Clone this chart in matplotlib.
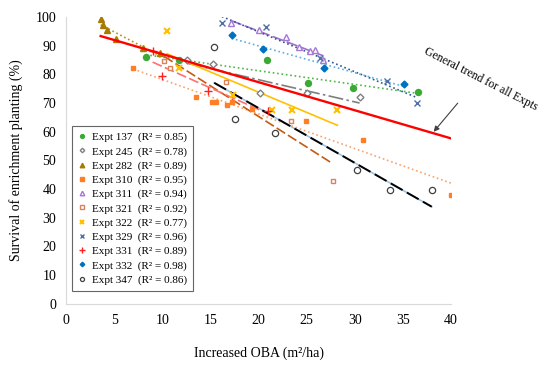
import numpy as np
import matplotlib
matplotlib.use("Agg")
import matplotlib.pyplot as plt

plt.rcParams['font.family'] = ['Liberation Serif', 'DejaVu Serif']

# values
x137 = [8.3, 11.7, 20.9, 25.1, 29.8, 36.6]
y137 = [86.0, 84.9, 84.9, 77.1, 75.1, 73.8]

x245 = [12.6, 15.3, 20.2, 25.0, 30.5]
y245 = [85.1, 83.8, 73.4, 73.4, 72.3]

x282 = [3.6, 3.8, 4.3, 5.15, 8.0, 9.75]
y282 = [99.3, 97.3, 95.4, 92.4, 89.3, 87.3]

x310 = [7.0, 13.5, 15.2, 15.6, 16.7, 17.2, 19.3, 24.9, 30.9, 40.0]
y310 = [82.3, 72.0, 70.4, 70.4, 69.2, 70.4, 67.9, 63.8, 57.3, 37.9]

x311 = [17.1, 20.0, 22.9, 24.2, 25.4, 25.9, 26.7]
y311 = [98.0, 95.4, 93.0, 89.5, 88.2, 88.4, 84.9]

x321 = [10.2, 10.8, 16.6, 23.4, 27.7]
y321 = [84.7, 82.1, 77.3, 63.8, 43.0]

x322 = [10.5, 11.7, 17.4, 21.4, 23.5, 28.2]
y322 = [95.1, 82.1, 72.9, 67.7, 67.7, 67.7]

x329 = [16.2, 20.8, 26.4, 33.3, 36.5]
y329 = [97.9, 96.6, 85.7, 77.7, 70.2]

x331 = [9.0, 10.0, 14.8, 21.0]
y331 = [88.0, 79.5, 74.3, 67.2]

x332 = [17.2, 20.5, 26.8, 35.1]
y332 = [93.6, 89.0, 82.3, 76.6]

x347 = [15.4, 17.6, 21.7, 30.2, 33.7, 38.0]
y347 = [89.6, 64.6, 59.7, 46.6, 39.6, 39.6]

expts = ['137', '245', '282', '310', '311', '321', '322', '329', '331', '332', '347']
r2 = ['0.85', '0.78', '0.89', '0.95', '0.94', '0.92', '0.77', '0.96', '0.89', '0.98', '0.86']

general_slope = -0.98
general_intercept = 96.9

series = [
    (x137, y137, dict(marker='o', color='#3AAA35', mfc='#3AAA35', ms=4.3), dict(color='#4CB848', ls=':', lw=1.2)),
    (x245, y245, dict(marker='D', color='#808080', mfc='white', ms=3.5), dict(color='#7F7F7F', ls=(0, (9, 2, 1.5, 2)), lw=1.2)),
    (x282, y282, dict(marker='^', color='#A67C00', mfc='#A67C00', ms=5), dict(color='#BF9000', ls=':', lw=1.2)),
    (x310, y310, dict(marker='s', color='#FF7F27', mfc='#FF7F27', ms=3.5), dict(color='#F8A46C', ls=':', lw=1.2)),
    (x311, y311, dict(marker='^', color='#A678D6', mfc='white', ms=5), dict(color='#9E6FCB', ls=(0, (7, 2)), lw=1.2)),
    (x321, y321, dict(marker='s', color='#D9825B', mfc='white', ms=3.5), dict(color='#C55A11', ls=(0, (6, 2)), lw=1.2)),
    (x322, y322, dict(marker='x', color='#FFC000', ms=4.5, mew=1.5), dict(color='#FFC000', ls='-', lw=1.2)),
    (x329, y329, dict(marker='x', color='#4F6FA8', ms=5, mew=1.0), dict(color='#2F5597', ls=':', lw=1.2)),
    (x331, y331, dict(marker='+', color='#FF2020', ms=6, mew=1.0), dict(color='#FF7070', ls=(0, (6, 2)), lw=1.2)),
    (x332, y332, dict(marker='D', color='#0070C0', mfc='#0070C0', ms=3.5), dict(color='#5BAFE5', ls=':', lw=1.2)),
    (x347, y347, dict(marker='o', color='#404040', mfc='white', ms=4.5, mew=0.9), dict(color='black', ls=(0, (7, 2.5)), lw=1.4)),
]

fig = plt.figure(figsize=(5.5, 3.71), dpi=100)
ax = fig.add_axes([0.12, 0.181, 0.70, 0.773])

for (xs, ys, mk, ln), ex, r in zip(series, expts, r2):
    xs = np.array(xs)
    ys = np.array(ys)
    k, b = np.polyfit(xs, ys, 1)
    xl = np.array([xs.min(), xs.max()])
    if ex == '347':
        ax.plot(xl, k * xl + b, color='#9DC3E6', lw=1.2, zorder=2)
    ax.plot(xl, k * xl + b, zorder=3, **ln)
    ax.plot(xs, ys, ls='none', zorder=4, label=f'Expt {ex}  (R² = {r})', **mk)

all_x = np.concatenate([np.array(s[0]) for s in series])
gx = np.array([all_x.min(), all_x.max()])
ax.plot(gx, general_slope * gx + general_intercept, color='#FF0000', lw=1.7, zorder=5)

ax.text(43.1, 78.5, 'General trend for all Expts', fontsize=8.5, rotation=-27,
        ha='center', va='center', clip_on=False)
ax.annotate('', xy=(38.2, 60.0), xytext=(40.7, 70.0),
            arrowprops=dict(arrowstyle='-|>', color='#404040', lw=0.8, shrinkA=0, shrinkB=0,
                            mutation_scale=8),
            annotation_clip=False)

ax.set_xlim(0, 40)
ax.set_ylim(0, 100)
ax.set_xticks(np.arange(0, 41, 5))
ax.set_yticks(np.arange(0, 101, 10))
ax.tick_params(length=0, labelsize=10, pad=7)
for s in ['top', 'right']:
    ax.spines[s].set_visible(False)
for s in ['left', 'bottom']:
    ax.spines[s].set_color('#D9D9D9')
ax.set_xlabel('Increased OBA (m²/ha)', fontsize=10, labelpad=14)
ax.set_ylabel('Survival of enrichment planting (%)', fontsize=10, labelpad=9)

leg = ax.legend(loc='lower left', bbox_to_anchor=(0.015, 0.045), fontsize=8, frameon=True,
                fancybox=False, edgecolor='#404040', handlelength=0.8, handletextpad=0.45,
                labelspacing=0.38, borderpad=0.55, markerscale=0.65, borderaxespad=0)
leg.get_frame().set_linewidth(0.8)

fig.savefig('out.png', dpi=100)
